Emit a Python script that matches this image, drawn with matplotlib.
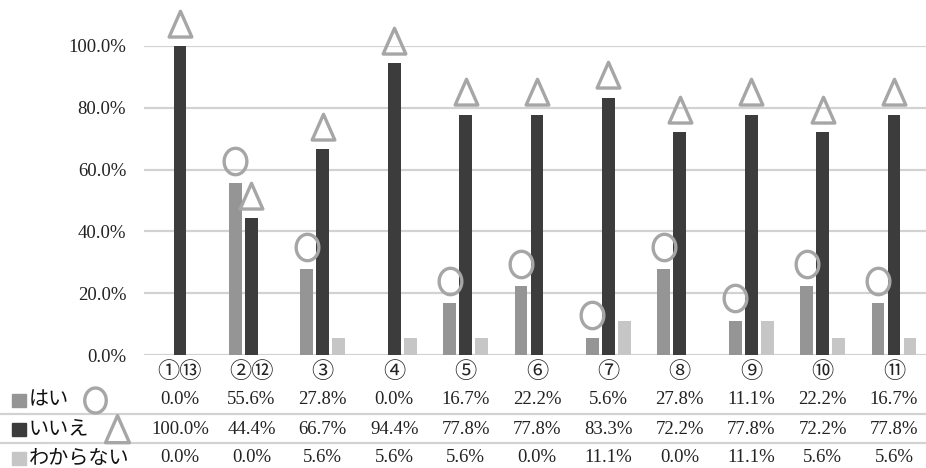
import numpy as np
import matplotlib.pyplot as plt
from matplotlib.path import Path
from matplotlib.markers import MarkerStyle
from matplotlib.lines import Line2D
from matplotlib.patches import Rectangle
from matplotlib.transforms import blended_transform_factory

# データ
categories = ['①⑬', '②⑫', '③', '④', '⑤', '⑥', '⑦', '⑧', '⑨', '⑩', '⑪']
hai = [0.0, 55.6, 27.8, 0.0, 16.7, 22.2, 5.6, 27.8, 11.1, 22.2, 16.7]
iie = [100.0, 44.4, 66.7, 94.4, 77.8, 77.8, 83.3, 72.2, 77.8, 72.2, 77.8]
wakaranai = [0.0, 0.0, 5.6, 5.6, 5.6, 0.0, 11.1, 0.0, 11.1, 5.6, 5.6]
series_names = ['はい', 'いいえ', 'わからない']

c_hai = '#959595'
c_iie = '#3c3c3c'
c_wak = '#c6c6c6'
c_mark = '#a6a6a6'
c_grid = '#d2d2d2'

W, H = 926, 468
fig = plt.figure(figsize=(W / 100, H / 100), dpi=100)

def fy(py):
    return 1 - py / H

# プロット領域
left, right = 144.3, 929.7
ax = fig.add_axes([left / W, fy(355), (right - left) / W, (355 - 46) / H])

x = np.arange(len(categories))
bw = 0.18
off = 0.224
ax.bar(x - off, hai, bw, color=c_hai, zorder=3)
ax.bar(x, iie, bw, color=c_iie, zorder=3)
ax.bar(x + off, wakaranai, bw, color=c_wak, zorder=3)

ax.set_xlim(-0.5, 10.5)
ax.set_ylim(0, 100)
ax.set_yticks(np.arange(0, 101, 20))
ax.set_yticklabels([f'{v:.1f}%' for v in np.arange(0, 101, 20)],
                   family='Liberation Serif', fontsize=13.5, color='#222222')
ax.tick_params(axis='y', length=0, pad=13)
ax.set_xticks([])
ax.grid(axis='y', color=c_grid, lw=1.6, zorder=0)
for s in ax.spines.values():
    s.set_visible(False)

# マーカー(○と△)
t = np.linspace(0, 2 * np.pi, 60)
ell = Path(np.column_stack([0.86 * np.cos(t), np.sin(t)]), closed=True)
tri = Path([(0, 1), (-0.86, -0.95), (0.86, -0.95), (0, 1)], closed=True)
circ_m = MarkerStyle(ell, joinstyle='round')
tri_m = MarkerStyle(tri, joinstyle='round')

hx = [xi - off for xi, v in zip(x, hai) if v > 0]
hy = [v + 7.3 for v in hai if v > 0]
ax.plot(hx, hy, ls='none', marker=circ_m, ms=19, mfc='none', mec=c_mark,
        mew=2.4, clip_on=False, zorder=4)
ax.plot(x, [v + 7.2 for v in iie], ls='none', marker=tri_m, ms=19, mfc='none',
        mec=c_mark, mew=2.4, clip_on=False, zorder=4)

# カテゴリラベルと表
tr = blended_transform_factory(ax.transData, fig.transFigure)
for xi, lab in zip(x, categories):
    ax.text(xi, fy(371), lab, transform=tr, ha='center', va='center',
            family=['Noto Sans CJK JP', 'DejaVu Sans'], fontsize=16, color='#222222')

row_y = [400, 429, 458]
for ry, vals in zip(row_y, [hai, iie, wakaranai]):
    for xi, v in zip(x, vals):
        ax.text(xi, fy(ry), f'{v:.1f}%', transform=tr, ha='center', va='center',
                family='Liberation Serif', fontsize=13.5, color='#222222')

# 表の区切り線
for ly in [414, 443]:
    fig.add_artist(Line2D([0, 1], [fy(ly), fy(ly)], transform=fig.transFigure,
                          color=c_grid, lw=1.6))

# 凡例
for ry, col, name in zip(row_y, [c_hai, c_iie, c_wak], series_names):
    fig.add_artist(Rectangle((12 / W, fy(ry + 6.5)), 14 / W, 13 / H,
                             transform=fig.transFigure, color=col))
    fig.text(29 / W, fy(ry), name, ha='left', va='center',
             family=['Noto Sans CJK JP', 'DejaVu Sans'], fontsize=14.5, color='#111111')

fig.add_artist(Line2D([95 / W], [fy(400)], transform=fig.transFigure, marker=circ_m,
                      ms=18, mfc='none', mec=c_mark, mew=2.4, ls='none'))
fig.add_artist(Line2D([117 / W], [fy(429)], transform=fig.transFigure, marker=tri_m,
                      ms=20, mfc='none', mec=c_mark, mew=2.4, ls='none'))

fig.savefig('out.png', dpi=100)
